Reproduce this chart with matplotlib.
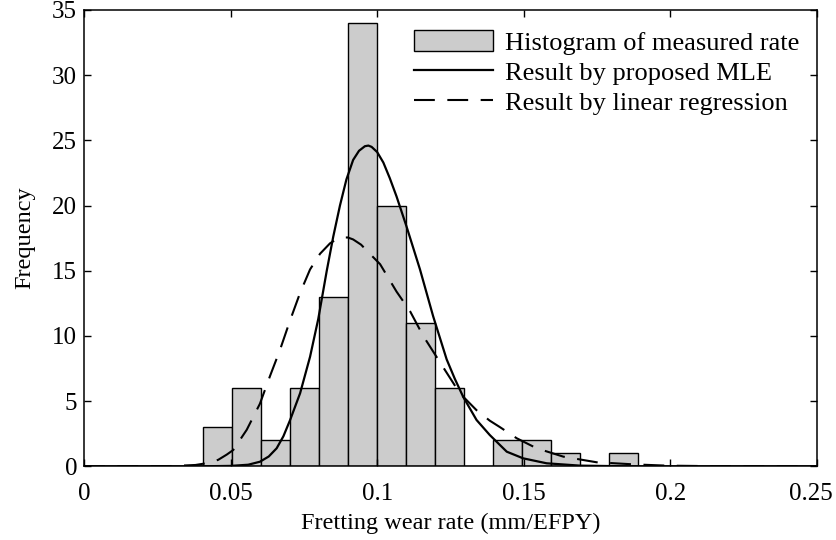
import numpy as np
import matplotlib
matplotlib.use("Agg")
import matplotlib.pyplot as plt
from matplotlib.transforms import ScaledTranslation

plt.rcParams['font.family'] = ['Liberation Serif', 'DejaVu Serif']

# histogram of measured fretting wear rates
bin_edges = [0.0405, 0.0504, 0.0603, 0.0702, 0.0801, 0.0900, 0.0999, 0.1098,
             0.1197, 0.1296, 0.1395, 0.1494, 0.1593, 0.1692, 0.1791, 0.1890]
counts = [3, 6, 2, 6, 13, 34, 20, 11, 6, 0, 2, 2, 1, 0, 1]

# fitted curve from proposed MLE (scaled to frequency)
mle_x = [0.0, 0.040, 0.050, 0.0560, 0.0600, 0.0630, 0.0657, 0.0680, 0.0703,
         0.0737, 0.0771, 0.0799, 0.0828, 0.0850, 0.0873, 0.0895, 0.0918,
         0.0938, 0.0958, 0.0970, 0.0981, 0.1000, 0.1021, 0.1043, 0.1066,
         0.1100, 0.1146, 0.1191, 0.1237, 0.1265, 0.1294, 0.1339, 0.1384,
         0.1442, 0.1498, 0.1578, 0.1692, 0.185, 0.25]
mle_y = [0.0, 0.0, 0.03, 0.12, 0.35, 0.75, 1.38, 2.3, 3.55,
         5.6, 8.4, 11.3, 15.0, 17.6, 20.0, 22.0, 23.5,
         24.2, 24.55, 24.6, 24.5, 24.1, 23.3, 22.1, 20.7,
         18.4, 15.1, 11.5, 8.2, 6.7, 5.3, 3.55, 2.4,
         1.12, 0.61, 0.23, 0.05, 0.0, 0.0]

# fitted curve from linear regression (scaled to frequency)
lr_x = [0.0, 0.030, 0.038, 0.0430, 0.0458, 0.0487, 0.0509, 0.0555, 0.0600,
        0.0634, 0.0668, 0.0703, 0.0737, 0.0771, 0.0805, 0.0839, 0.0860,
        0.0880, 0.0900, 0.0918, 0.0945, 0.0975, 0.1010, 0.1066, 0.1112,
        0.1157, 0.1225, 0.1282, 0.1339, 0.1384, 0.1419, 0.1476, 0.1544,
        0.1635, 0.1748, 0.1873, 0.1987, 0.215, 0.25]
lr_y = [0.0, 0.02, 0.1, 0.28, 0.5, 0.9, 1.25, 2.8, 4.8,
        6.9, 8.9, 11.2, 13.3, 15.1, 16.3, 17.1, 17.4,
        17.55, 17.55, 17.4, 17.0, 16.3, 15.5, 13.4, 11.9,
        10.0, 7.6, 5.6, 4.3, 3.5, 3.0, 2.15, 1.38,
        0.74, 0.31, 0.15, 0.05, 0.01, 0.0]

fig = plt.figure(figsize=(8.37, 5.40), dpi=100)
ax = fig.add_axes([0.1004, 0.1365, 0.8756, 0.845])

widths = np.diff(bin_edges)
bars = ax.bar(bin_edges[:-1], counts, width=widths, align='edge',
              color='#cccccc', edgecolor='black', linewidth=1.0, zorder=1)
mle_line, = ax.plot(mle_x, mle_y, color='black', lw=1.6, zorder=3)
lr_line, = ax.plot(lr_x, lr_y, color='black', lw=1.5, linestyle=(0, (10, 6)),
                   zorder=3)

ax.set_xlim(0, 0.25)
ax.set_ylim(0, 35)
ax.set_xticks([0, 0.05, 0.1, 0.15, 0.2, 0.25])
ax.set_xticklabels(['0', '0.05', '0.1', '0.15', '0.2', '0.25'])
ax.set_yticks(range(0, 36, 5))
ax.tick_params(direction='in', top=True, right=True, labelsize=18,
               length=5, width=1)
ax.tick_params(axis='x', pad=12)
ax.tick_params(axis='y', pad=5)
for s in ax.spines.values():
    s.set_linewidth(1.1)

# nudge the last x label left so it stays inside the figure
last = ax.get_xticklabels()[-1]
last.set_transform(last.get_transform() + ScaledTranslation(-4 / 72, 0, fig.dpi_scale_trans))

ax.set_xlabel('Fretting wear rate (mm/EFPY)', fontsize=17.5, labelpad=6)
ax.set_ylabel('Frequency', fontsize=17.5, labelpad=12)

ax.legend([bars, mle_line, lr_line],
          ['Histogram of measured rate', 'Result by proposed MLE',
           'Result by linear regression'],
          loc='upper right', frameon=False, fontsize=19, handlelength=3.0,
          handleheight=0.85, handletextpad=0.45, labelspacing=0.2,
          borderaxespad=0.2, bbox_to_anchor=(0.998, 0.99))

fig.savefig('out.png', dpi=100)
